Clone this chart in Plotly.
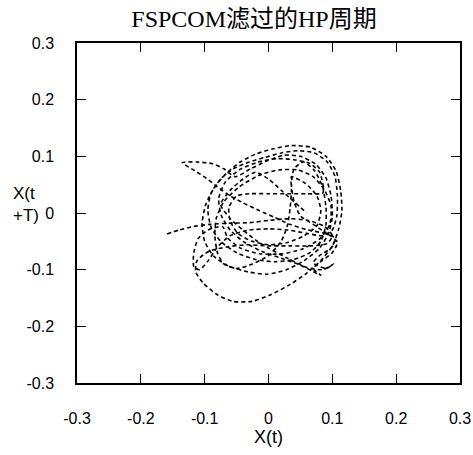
import plotly.graph_objects as go

title_text = "FSPCOM滤过的HP周期"
x_title = "X(t)"
y_title = "X(t<br>+T)"
tick_vals = [-0.3, -0.2, -0.1, 0, 0.1, 0.2, 0.3]
tick_text = ["-0.3", "-0.2", "-0.1", "0", "0.1", "0.2", "0.3"]

x_t = [-0.159, -0.140, -0.118, -0.092, -0.062, -0.030, 0.002, 0.032, 0.062, 0.088,
       0.100, 0.092, 0.066, 0.032, 0.000, -0.034, -0.066, -0.094, -0.112, -0.114,
       -0.102, -0.082, -0.056, -0.026, 0.004, 0.034, 0.060, 0.082, 0.100, 0.110,
       0.115, 0.113, 0.106, 0.090, 0.066, 0.036, 0.006, -0.020, -0.044, -0.066,
       -0.084, -0.098, -0.104, -0.100, -0.086, -0.062, -0.032, -0.002, 0.028, 0.056,
       0.080, 0.094, 0.100, 0.098, 0.090, 0.074, 0.050, 0.024, -0.002, -0.028,
       -0.052, -0.070, -0.088, -0.112, -0.135, -0.116, -0.097, -0.080, -0.061, -0.040,
       -0.014, 0.010, 0.033, 0.062, 0.094, 0.108, 0.100, 0.084, 0.070, 0.082,
       0.050, 0.020, -0.010, -0.040, -0.060, -0.074, -0.078, -0.068, -0.046, -0.016,
       0.014, 0.040, 0.064, 0.080, 0.086, 0.085, 0.060, 0.030, 0.000, -0.030,
       -0.050, -0.062, -0.060, -0.048, -0.026, 0.000, 0.030, 0.056, 0.076, 0.082,
       0.076, 0.058, 0.036, 0.036, 0.034, 0.030, 0.020, 0.000, -0.025, -0.050,
       -0.070, -0.080, -0.084, -0.082, -0.070, -0.046, -0.016, 0.016, 0.046, 0.070,
       0.088, 0.098, 0.096, 0.080, 0.052, 0.020, -0.014, -0.044, -0.064, -0.072,
       -0.095, -0.110, -0.117, -0.117, -0.108, -0.095, -0.080, -0.060, -0.030, 0.000,
       0.030, 0.060, 0.085, 0.100, 0.107, 0.108, 0.104, 0.092, 0.072, 0.046,
       0.020, -0.006, -0.030, -0.055, -0.075, -0.090, -0.095, -0.090, -0.075, -0.050,
       -0.020, 0.010, 0.040, 0.065, 0.082, 0.090, 0.090, 0.085, 0.072, 0.055,
       0.040, 0.036, 0.040, 0.050, 0.070, 0.090, 0.105, 0.098, 0.080, 0.070,
       0.090, 0.102, 0.085, 0.060, 0.030, 0.000, -0.020, -0.040, -0.060, -0.075,
       -0.060, -0.040, -0.020, 0.000, 0.020, 0.040, 0.060]

x_t_plus_T = [-0.037, -0.030, -0.024, -0.020, -0.018, -0.017, -0.013, -0.010, -0.013, -0.024,
              -0.040, -0.054, -0.058, -0.058, -0.058, -0.056, -0.060, -0.068, -0.084, -0.104,
              -0.124, -0.143, -0.156, -0.156, -0.144, -0.126, -0.106, -0.084, -0.058, -0.028,
              0.004, 0.040, 0.074, 0.100, 0.116, 0.119, 0.113, 0.104, 0.090, 0.070,
              0.046, 0.016, -0.018, -0.050, -0.076, -0.094, -0.104, -0.108, -0.100, -0.084,
              -0.062, -0.036, -0.006, 0.030, 0.062, 0.086, 0.100, 0.102, 0.092, 0.078,
              0.064, 0.078, 0.087, 0.090, 0.089, 0.075, 0.061, 0.046, 0.031, 0.018,
              0.004, -0.008, -0.020, -0.030, -0.038, -0.052, -0.070, -0.084, -0.098, -0.110,
              -0.092, -0.080, -0.068, -0.050, -0.030, -0.004, 0.026, 0.054, 0.076, 0.090,
              0.096, 0.094, 0.088, 0.072, 0.046, 0.035, 0.034, 0.034, 0.034, 0.034,
              0.030, 0.010, -0.014, -0.036, -0.050, -0.056, -0.052, -0.040, -0.022, 0.004,
              0.030, 0.052, 0.064, 0.040, 0.010, -0.020, -0.050, -0.075, -0.090, -0.098,
              -0.090, -0.070, -0.040, -0.010, 0.020, 0.046, 0.066, 0.076, 0.076, 0.064,
              0.040, 0.012, -0.020, -0.046, -0.064, -0.072, -0.072, -0.062, -0.044, -0.024,
              -0.030, -0.045, -0.070, -0.095, -0.100, -0.085, -0.060, -0.040, -0.030, -0.028,
              -0.030, -0.036, -0.040, -0.030, -0.005, 0.030, 0.065, 0.090, 0.106, 0.110,
              0.106, 0.098, 0.090, 0.078, 0.060, 0.035, 0.005, -0.025, -0.050, -0.070,
              -0.082, -0.086, -0.082, -0.070, -0.050, -0.020, 0.010, 0.045, 0.075, 0.090,
              0.078, 0.050, 0.020, -0.005, -0.020, -0.035, -0.045, -0.062, -0.075, -0.088,
              -0.098, -0.090, -0.100, -0.096, -0.080, -0.062, -0.048, -0.030, -0.010, 0.015,
              0.040, 0.060, 0.072, 0.060, 0.040, 0.020, 0.000]

fig = go.Figure()
fig.add_trace(go.Scatter(
    x=x_t, y=x_t_plus_T, mode="lines",
    line=dict(color="black", width=1.6, dash="4px,3px", shape="spline", smoothing=0.6),
    showlegend=False, hoverinfo="skip"))

axis_common = dict(
    range=[-0.3, 0.3], tickmode="array", tickvals=tick_vals, ticktext=tick_text,
    showline=True, linecolor="black", linewidth=1.5, mirror="ticks",
    ticks="inside", ticklen=9, tickwidth=1.2, tickcolor="black",
    showgrid=False, zeroline=False, automargin=False,
    tickfont=dict(family="Liberation Sans, Arial, sans-serif", size=16, color="black"),
)

fig.update_layout(
    width=473, height=455,
    margin=dict(l=77, r=13, t=43, b=72),
    plot_bgcolor="white", paper_bgcolor="white",
    title=dict(text=title_text, x=(254 - 77) / 383, xref="paper", xanchor="center",
               y=1 - 19 / 455, yanchor="middle",
               font=dict(family="Liberation Serif, Noto Sans CJK SC, serif", size=24, color="black")),
    xaxis=dict(**axis_common, ticklabelstandoff=20,
               title=dict(text=x_title, standoff=0,
                          font=dict(family="Liberation Sans, Arial, sans-serif", size=18, color="black"))),
    yaxis=dict(**axis_common, ticklabelstandoff=18),
)

fig.add_annotation(
    text=y_title, xref="paper", yref="paper",
    x=(11 - 77) / 383, y=0.525, xanchor="left", yanchor="middle", align="left",
    showarrow=False,
    font=dict(family="Liberation Sans, Arial, sans-serif", size=17, color="black"))

fig.write_html("out.html")
